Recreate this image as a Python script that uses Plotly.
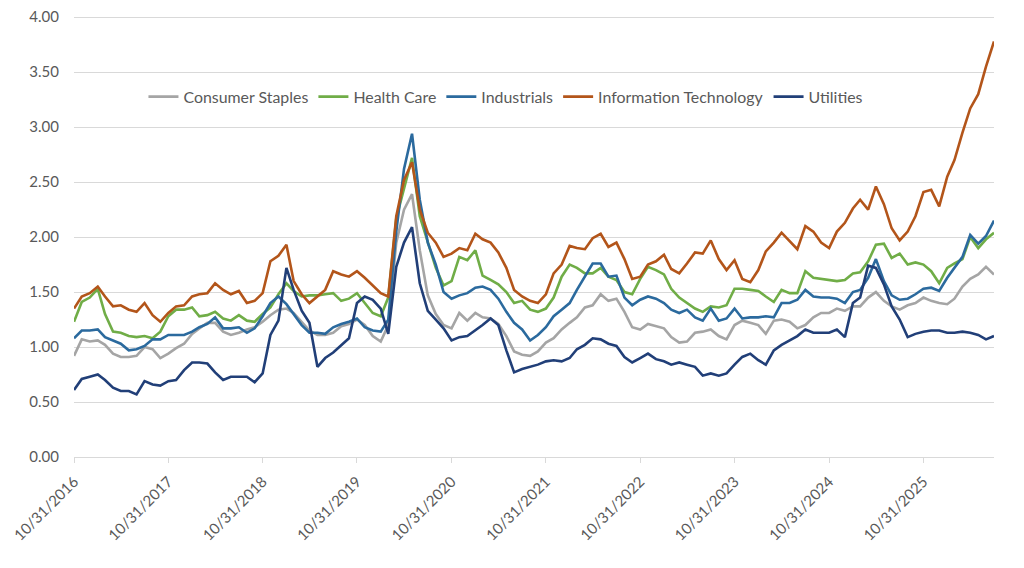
import pandas as pd
import plotly.graph_objects as go

# monthly readings, first point 10/31/2016
consumer_staples = [
    0.92, 1.07, 1.05, 1.06, 1.02, 0.94, 0.91, 0.91, 0.92, 1.00, 0.98, 0.90, 0.94, 0.99, 1.03, 1.12, 1.17, 1.22, 1.22, 1.14, 1.11, 1.13, 1.16,
    1.18, 1.23, 1.29, 1.34, 1.35, 1.31, 1.23, 1.15, 1.11, 1.11, 1.13, 1.19, 1.21, 1.25, 1.20, 1.10, 1.05, 1.20, 1.95, 2.25, 2.39,
    1.88, 1.47, 1.30, 1.20, 1.17, 1.31, 1.24, 1.31, 1.27, 1.26, 1.21, 1.10, 0.96, 0.93, 0.92, 0.96, 1.04, 1.08, 1.16, 1.22, 1.27, 1.36,
    1.38, 1.48, 1.42, 1.44, 1.32, 1.18, 1.16, 1.21, 1.19, 1.17, 1.09, 1.04, 1.05, 1.13, 1.14, 1.16, 1.10, 1.07, 1.20, 1.24, 1.22, 1.20,
    1.12, 1.24, 1.25, 1.23, 1.17, 1.20, 1.27, 1.31, 1.31, 1.35, 1.33, 1.37, 1.37, 1.45, 1.50,
    1.42, 1.37, 1.34, 1.38, 1.40, 1.45, 1.42, 1.40, 1.39, 1.44, 1.55, 1.62, 1.66, 1.73, 1.66,
]
health_care = [
    1.23, 1.41, 1.45, 1.53, 1.30, 1.14, 1.13, 1.10, 1.09, 1.10, 1.08, 1.14, 1.28, 1.34, 1.34, 1.36, 1.28, 1.29, 1.32, 1.26, 1.24, 1.29, 1.24,
    1.23, 1.30, 1.36, 1.48, 1.58, 1.51, 1.46, 1.47, 1.47, 1.48, 1.49, 1.42, 1.44, 1.49, 1.40, 1.31, 1.28, 1.45, 2.17, 2.45, 2.72,
    2.19, 1.95, 1.72, 1.56, 1.60, 1.82, 1.79, 1.88, 1.65, 1.61, 1.57, 1.50, 1.40, 1.42, 1.34, 1.32, 1.35, 1.45, 1.64, 1.75, 1.72, 1.67,
    1.67, 1.72, 1.64, 1.61, 1.50, 1.48, 1.62, 1.73, 1.70, 1.66, 1.53, 1.45, 1.40, 1.35, 1.32, 1.37, 1.36, 1.38, 1.53, 1.53, 1.52, 1.51,
    1.46, 1.41, 1.52, 1.49, 1.49, 1.69, 1.63, 1.62, 1.61, 1.60, 1.61, 1.67, 1.68, 1.78, 1.93,
    1.94, 1.81, 1.85, 1.75, 1.77, 1.75, 1.69, 1.58, 1.72, 1.76, 1.80, 2.00, 1.90, 1.98, 2.04,
]
industrials = [
    1.08, 1.15, 1.15, 1.16, 1.09, 1.06, 1.03, 0.97, 0.98, 1.01, 1.07, 1.07, 1.11, 1.11, 1.11, 1.14, 1.18, 1.21, 1.27, 1.17, 1.17, 1.18, 1.13,
    1.17, 1.28, 1.40, 1.46, 1.39, 1.30, 1.20, 1.13, 1.13, 1.12, 1.18, 1.21, 1.23, 1.26, 1.18, 1.15, 1.14, 1.25, 2.05, 2.62, 2.94,
    2.34, 1.95, 1.75, 1.50, 1.44, 1.47, 1.49, 1.54, 1.55, 1.52, 1.44, 1.32, 1.22, 1.16, 1.06, 1.11, 1.18, 1.28, 1.34, 1.40, 1.52, 1.64,
    1.76, 1.76, 1.64, 1.65, 1.45, 1.38, 1.43, 1.46, 1.44, 1.40, 1.34, 1.31, 1.34, 1.27, 1.24, 1.35, 1.24, 1.26, 1.35, 1.26, 1.27, 1.27,
    1.28, 1.27, 1.40, 1.40, 1.43, 1.52, 1.46, 1.45, 1.45, 1.44, 1.40, 1.50, 1.52, 1.63, 1.80,
    1.60, 1.47, 1.43, 1.44, 1.48, 1.53, 1.54, 1.51, 1.63, 1.72, 1.82, 2.02, 1.94, 2.01, 2.15,
]
info_tech = [
    1.35, 1.46, 1.49, 1.55, 1.46, 1.37, 1.38, 1.34, 1.32, 1.40, 1.29, 1.23, 1.31, 1.37, 1.38, 1.46, 1.48, 1.49, 1.58, 1.52, 1.48, 1.51, 1.40,
    1.42, 1.49, 1.78, 1.83, 1.93, 1.60, 1.48, 1.40, 1.46, 1.52, 1.69, 1.66, 1.64, 1.69, 1.63, 1.56, 1.49, 1.46, 2.19, 2.52, 2.68,
    2.25, 2.04, 1.95, 1.82, 1.85, 1.90, 1.88, 2.03, 1.98, 1.95, 1.86, 1.72, 1.52, 1.46, 1.42, 1.40, 1.48, 1.67, 1.75, 1.92, 1.90, 1.89,
    1.99, 2.03, 1.91, 1.95, 1.80, 1.62, 1.64, 1.75, 1.78, 1.84, 1.71, 1.67, 1.76, 1.86, 1.85, 1.97, 1.80, 1.70, 1.79, 1.62, 1.59, 1.70,
    1.87, 1.95, 2.04, 1.96, 1.89, 2.10, 2.05, 1.95, 1.90, 2.05, 2.13, 2.26, 2.34, 2.25, 2.46,
    2.30, 2.08, 1.97, 2.05, 2.19, 2.41, 2.43, 2.28, 2.55, 2.70, 2.95, 3.17, 3.30, 3.55, 3.78,
]
utilities = [
    0.61, 0.71, 0.73, 0.75, 0.70, 0.63, 0.60, 0.60, 0.57, 0.69, 0.66, 0.65, 0.69, 0.70, 0.79, 0.86, 0.86, 0.85, 0.77, 0.70, 0.73, 0.73, 0.73,
    0.68, 0.76, 1.11, 1.24, 1.72, 1.52, 1.33, 1.22, 0.82, 0.90, 0.95, 1.02, 1.08, 1.40, 1.46, 1.43, 1.35, 1.12, 1.73, 1.95, 2.09,
    1.58, 1.33, 1.25, 1.17, 1.06, 1.09, 1.10, 1.15, 1.20, 1.26, 1.20, 0.97, 0.77, 0.80, 0.82, 0.84, 0.87, 0.88, 0.87, 0.90, 0.98, 1.02,
    1.08, 1.07, 1.03, 1.01, 0.91, 0.86, 0.90, 0.94, 0.89, 0.87, 0.84, 0.86, 0.84, 0.82, 0.74, 0.76, 0.74, 0.76, 0.84, 0.91, 0.94, 0.88,
    0.84, 0.97, 1.02, 1.06, 1.10, 1.16, 1.13, 1.13, 1.13, 1.16, 1.09, 1.40, 1.45, 1.74, 1.72,
    1.57, 1.37, 1.25, 1.09, 1.12, 1.14, 1.15, 1.15, 1.13, 1.13, 1.14, 1.13, 1.11, 1.07, 1.10,
]

dates = pd.date_range("2016-10-31", periods=len(info_tech), freq="ME")

tick_dates = ["2016-10-31", "2017-10-31", "2018-10-31", "2019-10-31", "2020-10-31",
              "2021-10-31", "2022-10-31", "2023-10-31", "2024-10-31", "2025-10-31"]
tick_labels = ["10/31/2016", "10/31/2017", "10/31/2018", "10/31/2019", "10/31/2020",
               "10/31/2021", "10/31/2022", "10/31/2023", "10/31/2024", "10/31/2025"]

series = [
    ("Consumer Staples", consumer_staples, "#A5A5A5"),
    ("Health Care", health_care, "#70AD47"),
    ("Industrials", industrials, "#2B6A9E"),
    ("Information Technology", info_tech, "#B3551A"),
    ("Utilities", utilities, "#213F78"),
]

fig = go.Figure()
for name, vals, color in series:
    fig.add_trace(
        go.Scatter(
            x=dates,
            y=vals,
            name=name,
            mode="lines",
            line=dict(color=color, width=2.6),
        )
    )

fig.update_layout(
    width=1024,
    height=568,
    template="plotly_white",
    font=dict(family="Lato, Open Sans, sans-serif", size=15, color="#595959"),
    margin=dict(l=74, r=30, t=15, b=111, autoexpand=False),
    showlegend=True,
    legend=dict(
        orientation="h",
        x=0.0755,
        xanchor="left",
        y=0.815,
        yanchor="middle",
        bgcolor="rgba(0,0,0,0)",
        font=dict(size=15.9, color="#595959"),
        itemwidth=30,
        tracegroupgap=0,
    ),
    xaxis=dict(
        range=[dates[0], dates[-1]],
        tickvals=tick_dates,
        ticktext=tick_labels,
        tickangle=-45,
        showgrid=False,
        ticks="outside",
        ticklen=5,
        tickcolor="#D9D9D9",
        showline=True,
        linecolor="#D9D9D9",
        zeroline=False,
        ticklabelstandoff=4,
    ),
    yaxis=dict(
        # plotly drops gridlines within 1px of the edge, so leave room above 4
        range=[0, 4.02],
        tickvals=[0, 0.5, 1, 1.5, 2, 2.5, 3, 3.5, 4],
        tickformat=".2f",
        gridcolor="#D9D9D9",
        gridwidth=1,
        zeroline=False,
        ticklabelstandoff=14,
    ),
)

# drop the default 8px body margin so the figure sits at the page corner
fig.write_html(
    "out.html",
    config={"displayModeBar": False},
    post_script="document.body.style.margin = '0';",
)
